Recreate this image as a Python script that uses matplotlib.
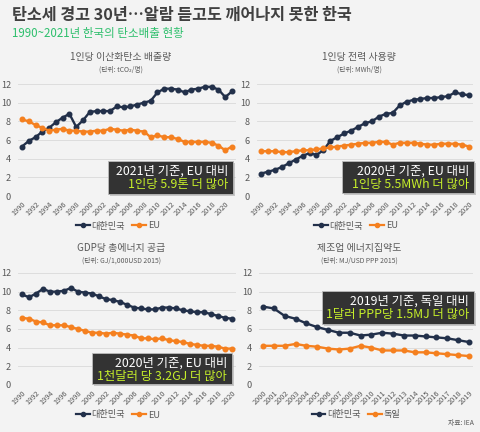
import numpy as np
import matplotlib
matplotlib.use("Agg")
import matplotlib.pyplot as plt
from matplotlib.lines import Line2D
from matplotlib.patches import Rectangle

plt.rcParams["font.family"] = ["Noto Sans CJK KR", "DejaVu Sans"]

W, H = 480, 432
NAVY = "#22304a"
ORANGE = "#f5801f"
GRAY = "#595959"
LIME = "#c6ef2a"

# --- data ---
years_a = np.arange(1990, 2022)   # per-capita CO2
co2_kor = [5.3, 5.9, 6.3, 6.9, 7.3, 7.9, 8.4, 8.8, 7.4, 8.1, 9.0, 9.1, 9.1, 9.1, 9.6, 9.5,
           9.6, 9.8, 10.0, 10.2, 11.1, 11.5, 11.5, 11.4, 11.1, 11.4, 11.5, 11.7, 11.7, 11.4,
           10.6, 11.2]
co2_eu = [8.2, 8.0, 7.6, 7.3, 7.0, 7.1, 7.2, 7.0, 7.0, 6.9, 6.9, 7.0, 7.0, 7.2, 7.1, 7.0,
          7.1, 7.0, 6.9, 6.3, 6.5, 6.3, 6.3, 6.1, 5.8, 5.8, 5.8, 5.8, 5.7, 5.4, 4.9, 5.3]

years_b = np.arange(1990, 2021)   # per-capita electricity
elec_kor = [2.4, 2.6, 2.8, 3.1, 3.5, 3.9, 4.3, 4.6, 4.4, 4.9, 5.9, 6.3, 6.7, 7.0, 7.4, 7.8,
            8.0, 8.5, 8.8, 8.9, 9.7, 10.1, 10.3, 10.4, 10.5, 10.5, 10.6, 10.7, 11.1, 10.9, 10.8]
elec_eu = [4.8, 4.8, 4.8, 4.7, 4.7, 4.8, 4.9, 4.9, 5.0, 5.1, 5.2, 5.3, 5.4, 5.5, 5.6, 5.7,
           5.7, 5.8, 5.8, 5.5, 5.7, 5.7, 5.7, 5.6, 5.5, 5.5, 5.6, 5.6, 5.6, 5.5, 5.3]

years_c = np.arange(1990, 2021)   # total energy supply per GDP
tes_kor = [9.7, 9.4, 9.8, 10.3, 10.0, 10.0, 10.1, 10.4, 10.0, 9.9, 9.8, 9.5, 9.2, 9.1, 8.9,
           8.6, 8.3, 8.2, 8.1, 8.1, 8.3, 8.3, 8.2, 8.0, 7.9, 7.8, 7.8, 7.6, 7.4, 7.2, 7.1]
tes_eu = [7.2, 7.1, 6.8, 6.7, 6.4, 6.4, 6.4, 6.2, 6.0, 5.8, 5.6, 5.6, 5.5, 5.6, 5.5, 5.4,
          5.3, 5.0, 5.0, 4.9, 5.0, 4.8, 4.7, 4.6, 4.4, 4.3, 4.2, 4.2, 4.1, 3.9, 3.9]

years_d = np.arange(2000, 2020)   # manufacturing energy intensity
mfg_kor = [8.4, 8.2, 7.4, 7.1, 6.6, 6.2, 5.9, 5.6, 5.6, 5.3, 5.4, 5.6, 5.5, 5.3, 5.3, 5.2,
           5.1, 5.0, 4.8, 4.6]
mfg_de = [4.2, 4.2, 4.2, 4.4, 4.2, 4.1, 3.9, 3.8, 3.9, 4.2, 4.0, 3.7, 3.7, 3.7, 3.5, 3.5,
          3.4, 3.3, 3.2, 3.1]

fig = plt.figure(figsize=(W / 100, H / 100), dpi=100)
fig.patch.set_facecolor("#f3f3f3")


def fx(x):
    return x / W


def fy(y):
    return 1 - y / H


def panel(years, kor, other, other_name, px0, px1, top, bottom, step,
          title, unit, cx, ty, box, line1, line2, leg_y):
    s = (px1 - px0) / (years[-1] - years[0])
    left, right = px0 - 4, px1 + 4
    ax = fig.add_axes([fx(left), fy(bottom), (right - left) / W, (bottom - top) / H])
    ax.set_facecolor("none")
    ax.set_xlim(years[0] - 4 / s, years[-1] + 4 / s)
    ax.set_ylim(0, 12)
    ax.set_yticks([0, 2, 4, 6, 8, 10, 12])
    ax.set_xticks(years[::step])
    ax.set_xticklabels([str(y) for y in years[::step]], rotation=45, ha="right",
                       rotation_mode="anchor", fontsize=5.3, color=GRAY)
    ax.tick_params(axis="y", length=0, labelsize=6.6, labelcolor=GRAY, pad=5)
    ax.tick_params(axis="x", length=0, pad=3)
    ax.grid(axis="y", color="#d9d9d9", lw=0.6)
    ax.set_axisbelow(True)
    for sp in ax.spines.values():
        sp.set_visible(False)
    ax.plot(years, kor, "-o", color=NAVY, lw=1.7, ms=3.3, clip_on=False, zorder=3)
    ax.plot(years, other, "-o", color=ORANGE, lw=1.7, ms=3.3, clip_on=False, zorder=3)

    fig.text(fx(cx), fy(ty), title, ha="center", va="center", fontsize=7.1, color=GRAY)
    fig.text(fx(cx), fy(ty + 13), unit, ha="center", va="center", fontsize=4.9, color=GRAY)

    bx0, by0, bx1, by1 = box
    fig.add_artist(Rectangle((fx(bx0 + 2), fy(by1 + 2)), (bx1 - bx0) / W, (by1 - by0) / H,
                             transform=fig.transFigure, facecolor="#9a9a9a", alpha=0.5,
                             edgecolor="none", zorder=4))
    fig.add_artist(Rectangle((fx(bx0), fy(by1)), (bx1 - bx0) / W, (by1 - by0) / H,
                             transform=fig.transFigure, facecolor="#333333",
                             edgecolor="#bbbbbb", lw=0.6, zorder=5))
    fig.text(fx(bx1 - 5), fy(by0 + 10), line1, ha="right", va="center", fontsize=8.9,
             color="white", zorder=6)
    fig.text(fx(bx1 - 5), fy(by0 + 23), line2, ha="right", va="center", fontsize=8.9,
             color=LIME, zorder=6)

    handles = [Line2D([], [], color=NAVY, lw=1.6, marker="o", ms=3),
               Line2D([], [], color=ORANGE, lw=1.6, marker="o", ms=3)]
    fig.legend(handles, ["대한민국", other_name], loc="center",
               bbox_to_anchor=(fx(cx - 3), fy(leg_y)), ncol=2, frameon=False,
               fontsize=6.6, labelcolor=GRAY, handlelength=1.5, handletextpad=0.2,
               columnspacing=0.8, numpoints=1)
    return ax


fig.text(fx(12), fy(15), "탄소세 경고 30년…알람 듣고도 깨어나지 못한 한국", ha="left",
         va="center", fontsize=11.7, fontweight="bold", color="#404040")
fig.text(fx(12), fy(33), "1990~2021년 한국의 탄소배출 현황", ha="left", va="center",
         fontsize=8.3, color="#2dbf6c")

panel(years_a, co2_kor, co2_eu, "EU", 22, 232, 84, 196, 2,
      "1인당 이산화탄소 배출량", "(단위: tCO₂/명)", 121, 57,
      (108, 161, 233, 194), "2021년 기준, EU 대비", "1인당 5.9톤 더 많아", 226)
panel(years_b, elec_kor, elec_eu, "EU", 261, 469, 84, 196, 2,
      "1인당 전력 사용량", "(단위: MWh/명)", 359, 57,
      (342, 161, 474, 193), "2020년 기준, EU 대비", "1인당 5.5MWh 더 많아", 226)
panel(years_c, tes_kor, tes_eu, "EU", 22, 232, 273, 385, 2,
      "GDP당 총에너지 공급", "(단위: GJ/1,000USD 2015)", 121, 248,
      (92, 353, 232, 384), "2020년 기준, EU 대비", "1천달러 당 3.2GJ 더 많아", 415)
panel(years_d, mfg_kor, mfg_de, "독일", 263, 469, 273, 385, 1,
      "제조업 에너지집약도", "(단위: MJ/USD PPP 2015)", 359, 248,
      (322, 291, 474, 324), "2019년 기준, 독일 대비", "1달러 PPP당 1.5MJ 더 많아", 415)

fig.text(fx(474), fy(423), "자료: IEA", ha="right", va="center", fontsize=4.9, color=GRAY)

fig.savefig("out.png", dpi=100, facecolor=fig.get_facecolor())
